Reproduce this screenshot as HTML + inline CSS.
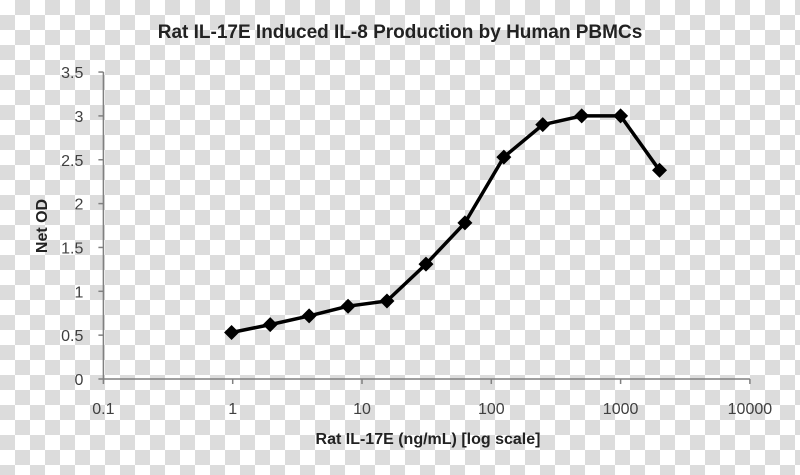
<!DOCTYPE html>
<html><head><meta charset="utf-8"><style>
html,body{margin:0;padding:0}
body{width:800px;height:475px;overflow:hidden;background:repeating-conic-gradient(#dcdcdc 0 25%,#fff 0 50%) 0 0/30px 30px;}
svg{position:absolute;left:0;top:0}
</style></head><body>
<svg id="chart" width="800" height="475" font-family="'Liberation Sans',sans-serif">
<text x="400" y="38" text-anchor="middle" font-size="19" font-weight="bold" fill="#222">Rat IL-17E Induced IL-8 Production by Human PBMCs</text>
<text x="428" y="444" text-anchor="middle" font-size="16" font-weight="bold" fill="#222">Rat IL-17E (ng/mL) [log scale]</text>
<text transform="translate(47,226) rotate(-90)" text-anchor="middle" font-size="16" font-weight="bold" fill="#222">Net OD</text>
<g id="axes"></g>
<g id="series"></g>
</svg>
<script>
const xTicks=[0.1,1,10,100,1000,10000];
const xTickLabels=["0.1","1","10","100","1000","10000"];
const yTicks=[0,0.5,1,1.5,2,2.5,3,3.5];
const yTickLabels=["0","0.5","1","1.5","2","2.5","3","3.5"];
const concentrations=[0.98,1.95,3.9,7.8,15.6,31.25,62.5,125,250,500,1000,2000];
const netOD=[0.53,0.62,0.72,0.83,0.89,1.31,1.78,2.53,2.9,3.0,3.0,2.38];
const X0=103.4,PXD=129.3,Y0=379,PXU=87.7;
const sx=v=>X0+(Math.log10(v)+1)*PXD;
const sy=v=>Y0-v*PXU;
const NS="http://www.w3.org/2000/svg";
const axes=document.getElementById('axes'),ser=document.getElementById('series');
function mk(tag,attrs,parent){const e=document.createElementNS(NS,tag);for(const k in attrs)e.setAttribute(k,attrs[k]);parent.appendChild(e);return e;}
const ya=mk('line',{x1:X0,y1:sy(3.5),x2:X0,y2:Y0,stroke:'#808080','stroke-width':1.5},axes);


const xa=mk('line',{x1:X0,y1:Y0,x2:sx(10000),y2:Y0,stroke:'#808080','stroke-width':1.5},axes);


yTicks.forEach((v,i)=>{
  const t=mk('line',{x1:X0-5,y1:sy(v),x2:X0,y2:sy(v),stroke:'#808080','stroke-width':1.5},axes);
  
  
  const l=mk('text',{x:X0-20,y:sy(v)+6,'text-anchor':'end','font-size':16,fill:'#404040'},axes);
  l.textContent=yTickLabels[i];
  
  
});
xTicks.forEach((v,i)=>{
  const t=mk('line',{x1:sx(v),y1:Y0,x2:sx(v),y2:Y0+5,stroke:'#808080','stroke-width':1.5},axes);
  
  
  const l=mk('text',{x:sx(v),y:Y0+35,'text-anchor':'middle','font-size':16,fill:'#404040'},axes);
  l.textContent=xTickLabels[i];
  
  
});
const pts=concentrations.map((c,i)=>sx(c).toFixed(1)+','+sy(netOD[i]).toFixed(1)).join(' ');
const pl=mk('polyline',{points:pts,fill:'none',stroke:'#000','stroke-width':3.5,'stroke-linejoin':'round'},ser);


concentrations.forEach((c,i)=>{
  const x=sx(c),y=sy(netOD[i]),r=7.5;
  const p=mk('polygon',{points:`${x},${y-r} ${x+r},${y} ${x},${y+r} ${x-r},${y}`,fill:'#000'},ser);
  
  
});
</script>
</body></html>
